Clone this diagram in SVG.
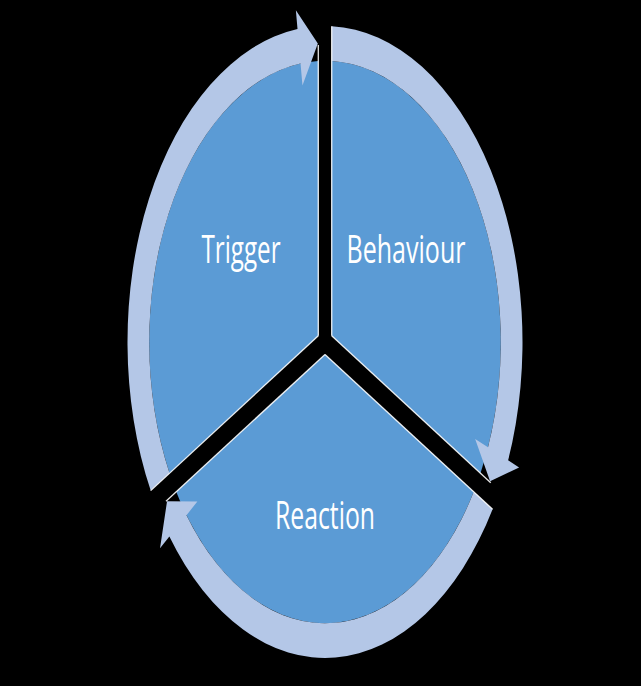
<svg xmlns="http://www.w3.org/2000/svg" width="641" height="686" viewBox="0 0 641 686">
  <style>
    .sector { fill: #5B9BD5; }
    .ring { fill: #B4C7E7; }
    .edge { stroke: #FFFFFF; stroke-width: 1.3; fill: none; stroke-opacity: 0.9; vector-effect: non-scaling-stroke; }
    .label { fill: #FFFFFF; font-family: "Open Sans", "Liberation Sans", sans-serif; font-size: 24px; text-anchor: middle; }
  </style>
  <rect x="0" y="0" width="641" height="686" fill="#000000"/>

  <g id="trigger">
    <path class="sector" transform="matrix(1.975 0 0 3.16 325 342)" d="M -3.4 -1.96 L -3.4 -88.94 A 89 89 0 0 0 -78.72 41.52 Z"/>
  </g>
  <g id="behaviour">
    <path class="sector" transform="matrix(1.975 0 0 3.16 325 342)" d="M 3.4 -1.96 L 3.4 -88.94 A 89 89 0 0 1 78.72 41.52 Z"/>
  </g>
  <g id="reaction">
    <path class="sector" transform="matrix(1.975 0 0 3.16 325 342)" d="M 0 3.93 L 75.32 47.41 A 89 89 0 0 1 -75.32 47.41 Z"/>
  </g>

  <g id="connectors" transform="matrix(1.975 0 0 3.16 325 342)">
    <path id="arrow-trigger-behaviour" class="ring" d="M -88.25 47.03 A 100 100 0 0 1 -13.92 -99.03 L -14.75 -104.97 L -3.63 -94.43 L -11.41 -81.20 L -12.39 -88.13 A 89 89 0 0 0 -78.72 41.52 Z"/>
    <path id="arrow-behaviour-reaction" class="ring" d="M 3.4 -99.94 A 100 100 0 0 1 92.72 37.46 L 98.28 39.71 L 83.59 44.07 L 76.03 30.72 L 82.52 33.34 A 89 89 0 0 0 3.4 -88.94 Z"/>
    <path id="arrow-reaction-trigger" class="ring" d="M 84.85 52.91 A 100 100 0 0 1 -78.80 61.57 L -83.53 65.26 L -79.97 50.36 L -64.62 50.48 L -70.13 54.79 A 89 89 0 0 0 75.32 47.41 Z"/>
  </g>

  <g id="gap-edges" transform="matrix(1.975 0 0 3.16 325 342)">
    <line class="edge" x1="-3.4" y1="-1.96" x2="-3.4" y2="-94"/>
    <line class="edge" x1="3.4" y1="-1.96" x2="3.4" y2="-99.9"/>
    <line class="edge" x1="3.4" y1="-1.96" x2="83.92" y2="44.53"/>
    <line class="edge" x1="0" y1="3.93" x2="84.85" y2="52.91"/>
    <line class="edge" x1="-3.4" y1="-1.96" x2="-88.25" y2="47.03"/>
    <line class="edge" x1="0" y1="3.93" x2="-80.52" y2="50.41"/>
  </g>

  <g id="labels">
    <text class="label" transform="translate(241 263) scale(1 1.6)" textLength="79" lengthAdjust="spacingAndGlyphs">Trigger</text>
    <text class="label" transform="translate(406 263) scale(1 1.6)" textLength="119" lengthAdjust="spacingAndGlyphs">Behaviour</text>
    <text class="label" transform="translate(325 529) scale(1 1.6)" textLength="100" lengthAdjust="spacingAndGlyphs">Reaction</text>
  </g>
</svg>
